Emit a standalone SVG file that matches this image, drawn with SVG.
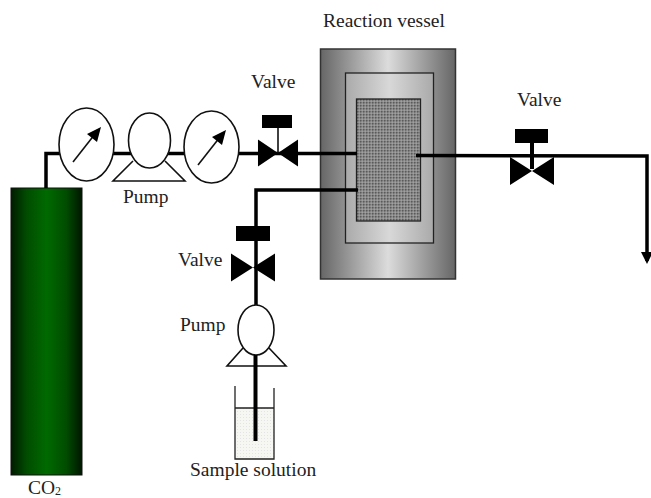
<svg xmlns="http://www.w3.org/2000/svg" width="651" height="498" viewBox="0 0 651 498">
<style>
text{font-family:"Liberation Serif","Times New Roman",serif;font-size:19.500px;fill:#222}
.pipe{fill:none;stroke:#000;stroke-width:3.500}
.thin{fill:#fff;stroke:#111;stroke-width:1.600}
.blk{fill:#000;stroke:none}
.needle{stroke:#111;stroke-width:1.600;fill:none}
</style>
<defs>
<linearGradient id="green"><stop offset="0" stop-color="#001c00"/><stop offset=".22" stop-color="#004c00"/><stop offset=".5" stop-color="#006a00"/><stop offset=".78" stop-color="#004c00"/><stop offset="1" stop-color="#001600"/></linearGradient>
<linearGradient id="gray"><stop offset="0" stop-color="#666"/><stop offset=".5" stop-color="#dcdcdc"/><stop offset="1" stop-color="#666"/></linearGradient>
<linearGradient id="gray2"><stop offset="0" stop-color="#aaa"/><stop offset=".5" stop-color="#d8d8d8"/><stop offset="1" stop-color="#aaa"/></linearGradient>
<pattern id="dots" width="3" height="3" patternUnits="userSpaceOnUse"><rect width="3" height="3" fill="#8a8a8a"/><rect width="1.500" height="1.500" fill="#5a5a5a"/><rect x="1.500" y="1.500" width="1.500" height="1.500" fill="#a0a0a0"/></pattern>
<pattern id="sol" width="3" height="3" patternUnits="userSpaceOnUse"><rect width="3" height="3" fill="#f6f6f2"/><rect width="1" height="1" fill="#e4e4e4"/></pattern>
<g id="v"><path class="blk" d="M-22-14V14L0 0ZM22-14V14L0 0Z"/></g>
<marker id="arr" markerUnits="userSpaceOnUse" markerWidth="14" markerHeight="14" refX="9" refY="6" orient="auto"><path d="M0 0L12 6L0 12Z" fill="#000"/></marker>
</defs>

<g id="cylinder"><rect x="11" y="188" width="71" height="287" fill="url(#green)" stroke="#111"/></g>
<g id="vessel">
<rect x="320.500" y="49" width="135" height="230" fill="url(#gray)" stroke="#333" stroke-width="1.500"/>
<rect x="345.500" y="73" width="88" height="170" fill="url(#gray2)" stroke="#222" stroke-width="1.300"/>
<rect x="356.500" y="99" width="64" height="122" fill="url(#dots)" stroke="#222" stroke-width="1.300"/>
</g>

<g id="connectors">
<path class="pipe" d="M46 188V153.500H62"/>
<path class="pipe" d="M112 153.500H135"/>
<path class="pipe" d="M166 153.500H186"/>
<path class="pipe" d="M238 153.500H357"/>
<path class="pipe" d="M358 190H256V305"/>
<path class="pipe" d="M416 155.500L647 156V261" marker-end="url(#arr)"/>
</g>

<g id="gauge1"><ellipse class="thin" cx="86.500" cy="144.500" rx="27.500" ry="36.500"/><path class="needle" d="M73 162L95 134"/><path class="blk" d="M101 127L97 142L87 134Z"/></g>
<g id="pump1"><path class="thin" d="M133 161L113 181H185L165 161"/><ellipse class="thin" cx="149.500" cy="140.500" rx="21" ry="27.500"/></g>
<g id="gauge2"><ellipse class="thin" cx="211.500" cy="147" rx="27.500" ry="36"/><path class="needle" d="M198 165L220 137"/><path class="blk" d="M226 130L222 145L212 137Z"/></g>
<g id="valve1"><rect class="blk" x="262" y="115" width="30" height="13"/><path class="needle" d="M278 128V153" stroke-width="2.500"/><use href="#v" transform="translate(278 153) scale(.91 .97)"/></g>
<g id="valve2"><rect class="blk" x="515" y="129" width="33" height="14"/><rect class="blk" x="530" y="143" width="4" height="26"/><use href="#v" transform="translate(532 171)"/></g>
<g id="valve3"><rect class="blk" x="236" y="226" width="34" height="15"/><use href="#v" transform="translate(253 267.500)"/></g>
<g id="pump2"><path class="thin" d="M243 348L227 366H286L269 348"/><ellipse class="thin" cx="256" cy="330" rx="18" ry="25"/></g>
<g id="beaker"><rect x="235" y="408" width="39" height="51" fill="url(#sol)"/><path d="M235 386V459H274V388M235 408H274" fill="none" stroke="#222" stroke-width="1.300"/><path d="M255.500 355V441" stroke="#000" stroke-width="4"/></g>

<text x="323" y="27">Reaction vessel</text>
<text x="251" y="88">Valve</text>
<text x="517" y="106">Valve</text>
<text x="178" y="266">Valve</text>
<text x="123" y="203">Pump</text>
<text x="180" y="331">Pump</text>
<text x="190" y="476">Sample solution</text>
<text x="28" y="493.500">CO<tspan font-size="12" dy="1.500">2</tspan></text>
</svg>
